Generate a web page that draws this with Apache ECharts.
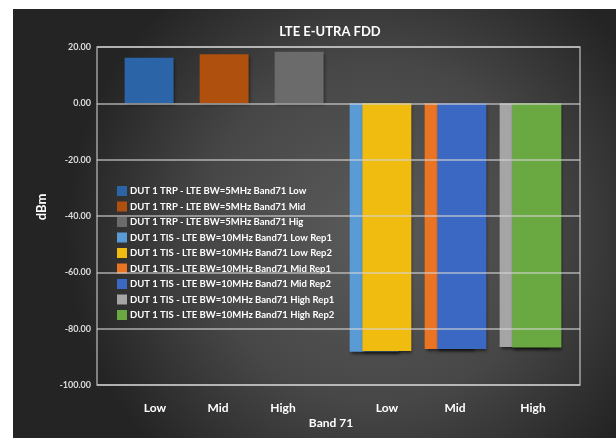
<!DOCTYPE html>
<html>
<head>
<meta charset="utf-8">
<script src="https://cdn.jsdelivr.net/npm/echarts@6/dist/echarts.min.js"></script>
<style>
  html, body { margin: 0; padding: 0; background: #ffffff; width: 616px; height: 438px; overflow: hidden; }
  #chart { position: absolute; left: 13px; top: 9px; width: 603px; height: 429px; }
</style>
</head>
<body>
<div id="chart"></div>
<script>
// ---- data ----
const categories = ['Low', 'Mid', 'High', 'Low', 'Mid', 'High'];
const yTicks = [-100, -80, -60, -40, -20, 0, 20];
const trpNames = [
  'DUT 1 TRP - LTE BW=5MHz Band71 Low',
  'DUT 1 TRP - LTE BW=5MHz Band71 Mid',
  'DUT 1 TRP - LTE BW=5MHz Band71 Hig'
];
const trpValues = [16.2, 17.4, 18.3];
const tisNames = [
  'DUT 1 TIS - LTE BW=10MHz Band71 Low Rep1',
  'DUT 1 TIS - LTE BW=10MHz Band71 Low Rep2',
  'DUT 1 TIS - LTE BW=10MHz Band71 Mid Rep1',
  'DUT 1 TIS - LTE BW=10MHz Band71 Mid Rep2',
  'DUT 1 TIS - LTE BW=10MHz Band71 High Rep1',
  'DUT 1 TIS - LTE BW=10MHz Band71 High Rep2'
];
const tisValues = [-88.2, -87.9, -87.2, -87.2, -86.5, -86.7];

// ---- styles ----
const trpColors = ['#2b65a8', '#b0500f', '#6b6b6b'];
const tisColors = ['#5b9bd5', '#f0bc10', '#ea7424', '#3a68c2', '#a5a5a5', '#6aa842'];
const FONT = 'Lato';
const labelShift = ['lA', 'lB', 'lC', 'lD', 'lE', 'lF'];

function oneAt(idx, v) {
  return categories.map((c, i) => (i === idx ? v : '-'));
}

const barStyleBase = {
  shadowColor: 'rgba(0,0,0,0.55)',
  shadowBlur: 3,
  shadowOffsetY: 2,
  shadowOffsetX: 1
};

const series = [];
trpValues.forEach((v, i) => {
  series.push({
    name: trpNames[i], type: 'bar', xAxisIndex: 1, yAxisIndex: 1,
    stack: 'A', barWidth: 49, barGap: '-74%',
    itemStyle: Object.assign({ color: trpColors[i] }, barStyleBase),
    data: oneAt(i, v)
  });
});
tisValues.forEach((v, j) => {
  series.push({
    name: tisNames[j], type: 'bar', xAxisIndex: 1, yAxisIndex: 1,
    stack: j % 2 === 0 ? 'A' : 'B', barWidth: 49, barGap: '-74%',
    itemStyle: Object.assign({ color: tisColors[j] }, barStyleBase),
    data: oneAt(3 + Math.floor(j / 2), v)
  });
});

const chart = echarts.init(document.getElementById('chart'), null, { renderer: 'canvas' });
chart.setOption({
  animation: false,
  backgroundColor: {
    type: 'radial', x: 0.6, y: 0.52, r: 0.72,
    colorStops: [
      { offset: 0, color: '#5b5b5b' },
      { offset: 0.55, color: '#474747' },
      { offset: 1, color: '#242424' }
    ]
  },
  textStyle: { fontFamily: FONT },
  title: {
    text: 'LTE E-UTRA FDD',
    left: 312, top: 11, textAlign: 'center',
    textStyle: { color: '#ffffff', fontSize: 13, fontWeight: 'bold', fontFamily: FONT }
  },
  legend: {
    orient: 'vertical', left: 99, top: 172,
    icon: 'rect', itemWidth: 10, itemHeight: 10, itemGap: 5.5,
    textStyle: { color: '#ffffff', fontSize: 9.5, fontWeight: 'bold', fontFamily: FONT, padding: [0, 0, 0, -2] },
    data: trpNames.concat(tisNames)
  },
  grid: [
    { left: 84, right: 36, top: 38, bottom: 53, show: true, borderColor: 'rgba(200,200,200,0.75)', borderWidth: 1.5, z: 5, backgroundColor: 'transparent' },
    { left: 105, right: 48, top: 38, bottom: 53 }
  ],
  xAxis: [
    {
      type: 'category', gridIndex: 0, data: categories,
      axisLine: { show: false }, axisTick: { show: false }, axisLabel: { show: false },
      splitLine: { show: false },
      name: 'Band 71', nameLocation: 'middle', nameGap: 32,
      nameTextStyle: { color: '#ffffff', fontSize: 12, fontWeight: 'bold', fontFamily: FONT, padding: [0, 15, 0, 0] }
    },
    {
      type: 'category', gridIndex: 1, data: categories,
      axisLine: { show: false }, axisTick: { show: false }, splitLine: { show: false },
      axisLabel: {
        margin: 17, color: '#ffffff', fontSize: 12, fontWeight: 'bold', fontFamily: FONT,
        formatter: function (val, idx) { return '{' + labelShift[idx] + '|' + val + '}'; },
        rich: {
          lA: { color: '#fff', fontSize: 12, fontWeight: 'bold', fontFamily: FONT, padding: [0, 1, 0, 0] },
          lB: { color: '#fff', fontSize: 12, fontWeight: 'bold', fontFamily: FONT, padding: [0, 25, 0, 0] },
          lC: { color: '#fff', fontSize: 12, fontWeight: 'bold', fontFamily: FONT, padding: [0, 45, 0, 0] },
          lD: { color: '#fff', fontSize: 12, fontWeight: 'bold', fontFamily: FONT, padding: [0, 0, 0, 13] },
          lE: { color: '#fff', fontSize: 12, fontWeight: 'bold', fontFamily: FONT, padding: [0, 1, 0, 0] },
          lF: { color: '#fff', fontSize: 12, fontWeight: 'bold', fontFamily: FONT, padding: [0, 0, 0, 5] }
        }
      }
    }
  ],
  yAxis: [
    {
      type: 'value', gridIndex: 0, min: yTicks[0], max: yTicks[yTicks.length - 1], interval: 20, z: 5,
      axisLine: { show: false }, axisTick: { show: false },
      axisLabel: { margin: 6, color: '#dcdcdc', fontSize: 9, fontWeight: 'bold', fontFamily: FONT,
        formatter: v => v.toFixed(2) },
      splitLine: { lineStyle: { color: 'rgba(215,215,215,0.75)', width: 1.5 } },
      name: 'dBm', nameLocation: 'middle', nameRotate: 90, nameGap: 49,
      nameTextStyle: { color: '#ffffff', fontSize: 13, fontWeight: 'bold', fontFamily: FONT, padding: [0, 0, 0, 18] }
    },
    {
      type: 'value', gridIndex: 1, min: yTicks[0], max: yTicks[yTicks.length - 1], interval: 20,
      axisLine: { show: false }, axisTick: { show: false }, axisLabel: { show: false }, splitLine: { show: false }
    }
  ],
  series: series
});
</script>
</body>
</html>
